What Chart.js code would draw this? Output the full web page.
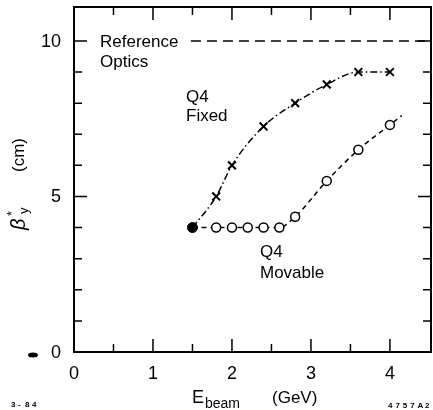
<!DOCTYPE html>
<html>
<head>
<meta charset="utf-8">
<script src="https://cdn.jsdelivr.net/npm/chart.js@4/dist/chart.umd.min.js"></script>
<style>
  html, body { margin: 0; padding: 0; background: #fff; }
  #wrap { width: 433px; height: 410px; }
</style>
</head>
<body>
<div id="wrap"><canvas id="chartCanvas" width="433" height="410"></canvas></div>
<script>
"use strict";

// values
const startPoint = [{ x: 1.5, y: 4.0 }];

const fixedE = [1.5, 1.8, 2.0, 2.4, 2.8, 3.2, 3.6, 4.0];
const fixedBeta = [4.0, 5.0, 6.0, 7.25, 8.0, 8.6, 9.0, 9.0];

const movableE = [1.5, 1.8, 2.0, 2.2, 2.4, 2.6, 2.8, 3.2, 3.6, 4.0, 4.15];
const movableBeta = [4.0, 4.0, 4.0, 4.0, 4.0, 4.0, 4.35, 5.5, 6.5, 7.3, 7.6];

const referenceE = [1.48, 4.52];
const referenceBeta = [10, 10];

const xTickLabels = [0, 1, 2, 3, 4];
const yTickLabels = [0, 5, 10];

const FONT = "'Liberation Sans', Arial, sans-serif";

function toPoints(xs, ys) {
    return xs.map((x, i) => ({ x: x, y: ys[i] }));
}

// circles on every measured point, none on the start dot or the line's tail
const movableRadius = movableE.map((x, i) => (i === 0 || i === movableE.length - 1) ? 0 : 4.5);
const fixedRadius = fixedE.map((x, i) => i === 0 ? 0 : 5.5);

// frame with inward tick marks on all four sides, tick labels and the free text
const framePlugin = {
    id: 'frame',
    afterDraw(chart) {
        const ctx = chart.ctx;
        const a = chart.chartArea;
        const xs = chart.scales.x;
        const ys = chart.scales.y;

        ctx.save();
        ctx.strokeStyle = '#000';
        ctx.lineWidth = 2;
        ctx.strokeRect(a.left, a.top, a.right - a.left, a.bottom - a.top);

        ctx.lineWidth = 1.5;
        ctx.beginPath();
        for (let v = 0.5; v <= 4; v += 0.5) {
            const px = xs.getPixelForValue(v);
            const len = Number.isInteger(v) ? 13 : 8;
            ctx.moveTo(px, a.bottom); ctx.lineTo(px, a.bottom - len);
            ctx.moveTo(px, a.top); ctx.lineTo(px, a.top + len);
        }
        for (let v = 1; v <= 10; v++) {
            const py = ys.getPixelForValue(v);
            const len = v % 5 === 0 ? 13 : 8;
            ctx.moveTo(a.left, py); ctx.lineTo(a.left + len, py);
            ctx.moveTo(a.right, py); ctx.lineTo(a.right - len, py);
        }
        ctx.stroke();

        ctx.fillStyle = '#000';
        ctx.textBaseline = 'middle';

        // tick labels
        ctx.font = '18px ' + FONT;
        ctx.textAlign = 'center';
        xTickLabels.forEach(v => ctx.fillText(String(v), xs.getPixelForValue(v), a.bottom + 22));
        ctx.textAlign = 'right';
        yTickLabels.forEach(v => ctx.fillText(String(v), a.left - 13, ys.getPixelForValue(v) + 1));

        ctx.textAlign = 'left';

        // stray mark left of the zero label
        ctx.beginPath();
        ctx.ellipse(33, 355, 5, 2.5, 0, 0, Math.PI * 2);
        ctx.fill();

        ctx.font = '17px ' + FONT;
        ctx.fillText('Reference', 100, 42);
        ctx.fillText('Optics', 100, 62);
        ctx.fillText('Q4', 186, 97);
        ctx.fillText('Fixed', 186, 116);
        ctx.fillText('Q4', 260, 252);
        ctx.fillText('Movable', 260, 273);

        // x title
        ctx.font = '18px ' + FONT;
        ctx.fillText('E', 192, 398);
        ctx.font = '14px ' + FONT;
        ctx.fillText('beam', 205, 404);
        ctx.font = '17px ' + FONT;
        ctx.fillText('(GeV)', 272, 398);

        // y title, rotated
        ctx.save();
        ctx.translate(19, 230);
        ctx.rotate(-Math.PI / 2);
        ctx.font = 'italic 20px ' + FONT;
        ctx.fillText('\u03b2', 0, 0);
        ctx.font = '13px ' + FONT;
        ctx.fillText('*', 14, -7);
        ctx.fillText('y', 16, 5);
        ctx.font = '17px ' + FONT;
        ctx.fillText('(cm)', 58, 0);
        ctx.restore();

        // figure codes
        ctx.font = 'bold 8px ' + FONT;
        '3-84'.split('').forEach((c, i) => ctx.fillText(c, 11 + i * 7, 405));
        '4757A2'.split('').forEach((c, i) => ctx.fillText(c, 388 + i * 7.4, 406));

        ctx.restore();
    }
};

const ctx = document.getElementById('chartCanvas');

const data = {
    datasets: [
        {
            label: 'Reference Optics',
            data: toPoints(referenceE, referenceBeta),
            borderColor: '#000',
            borderWidth: 1.5,
            borderDash: [10, 6],
            pointRadius: 0,
            fill: false
        },
        {
            label: 'Q4 Fixed',
            data: toPoints(fixedE, fixedBeta),
            borderColor: '#000',
            borderWidth: 1.5,
            borderDash: [7, 3, 1.5, 3],
            cubicInterpolationMode: 'monotone',
            pointStyle: 'crossRot',
            pointRadius: fixedRadius,
            pointBorderWidth: 2,
            pointBorderColor: '#000',
            fill: false
        },
        {
            label: 'Q4 Movable',
            data: toPoints(movableE, movableBeta),
            borderColor: '#000',
            borderWidth: 1.5,
            borderDash: [5, 4],
            cubicInterpolationMode: 'monotone',
            pointStyle: 'circle',
            pointRadius: movableRadius,
            pointBorderWidth: 1.5,
            pointBorderColor: '#000',
            pointBackgroundColor: '#fff',
            fill: false
        },
        {
            label: 'start',
            data: startPoint,
            showLine: false,
            pointStyle: 'circle',
            pointRadius: 5,
            pointBackgroundColor: '#000',
            pointBorderColor: '#000'
        }
    ]
};

const config = {
    type: 'line',
    data: data,
    options: {
        responsive: false,
        animation: false,
        layout: { autoPadding: false, padding: { top: 7, right: 2, left: 0, bottom: 0 } },
        plugins: {
            legend: { display: false },
            tooltip: { enabled: false }
        },
        scales: {
            x: {
                type: 'linear',
                min: 0,
                max: 4.52,
                grid: { display: false, drawTicks: false },
                border: { display: false },
                ticks: { display: false },
                afterFit: s => { s.height = 58; s.paddingLeft = 0; s.paddingRight = 0; }
            },
            y: {
                type: 'linear',
                min: 0,
                max: 11.09,
                grid: { display: false, drawTicks: false },
                border: { display: false },
                ticks: { display: false },
                afterFit: s => { s.width = 74; s.paddingTop = 0; s.paddingBottom = 0; }
            }
        }
    },
    plugins: [framePlugin]
};

new Chart(ctx, config);
</script>
</body>
</html>
